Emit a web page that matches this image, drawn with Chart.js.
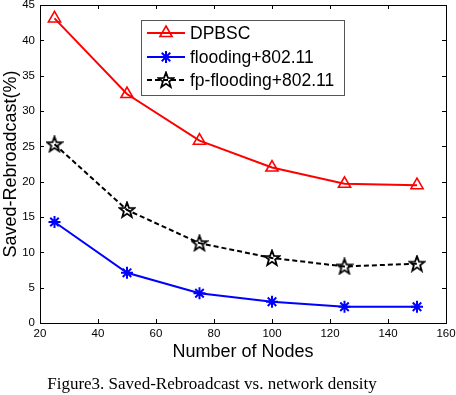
<!DOCTYPE html>
<html>
<head>
<meta charset="utf-8">
<script src="https://cdn.jsdelivr.net/npm/chart.js@4"></script>
<style>
  html, body { margin: 0; padding: 0; background: #fff; }
  #wrap { width: 456px; height: 395px; }
</style>
</head>
<body>
<div id="wrap"><canvas id="rebroadcast" width="456" height="395"></canvas></div>
<script>
const nodes = [25, 50, 75, 100, 125, 150];
const dpbsc = [43.1, 32.4, 25.8, 22.0, 19.7, 19.5];
const flooding = [14.3, 7.1, 4.2, 3.0, 2.3, 2.3];
const fpFlooding = [25.3, 16.0, 11.3, 9.2, 8.0, 8.4];
const seriesNames = ["DPBSC", "flooding+802.11", "fp-flooding+802.11"];
const xTicks = [20, 40, 60, 80, 100, 120, 140, 160];
const yTicks = [0, 5, 10, 15, 20, 25, 30, 35, 40, 45];
const caption = "Figure3. Saved-Rebroadcast vs. network density";

const SANS = '"Liberation Sans", Arial, sans-serif';

// hollow five point star, like matlab's 'p' marker
function makeStar() {
  const c = document.createElement("canvas");
  c.width = 18; c.height = 18;
  const g = c.getContext("2d");
  g.beginPath();
  for (let i = 0; i < 10; i++) {
    const r = i % 2 === 0 ? 8 : 3.3;
    const a = -Math.PI / 2 + i * Math.PI / 5;
    const px = 9 + r * Math.cos(a), py = 9.5 + r * Math.sin(a);
    if (i === 0) g.moveTo(px, py); else g.lineTo(px, py);
  }
  g.closePath();
  g.lineWidth = 1.8;
  g.strokeStyle = "#000";
  g.lineJoin = "miter";
  g.stroke();
  return c;
}
const starImg = makeStar();

const toPoints = (vals) => vals.map((v, i) => ({ x: nodes[i], y: v }));

const boxAndTicks = {
  id: "boxAndTicks",
  afterDraw(chart) {
    const { ctx, chartArea: a, scales } = chart;
    ctx.save();
    ctx.strokeStyle = "#000";
    ctx.lineWidth = 1;
    ctx.strokeRect(Math.round(a.left) + 0.5, Math.round(a.top) + 0.5,
      Math.round(a.right - a.left), Math.round(a.bottom - a.top));
    ctx.beginPath();
    scales.x.ticks.forEach(t => {
      const px = Math.round(scales.x.getPixelForValue(t.value)) + 0.5;
      ctx.moveTo(px, a.bottom); ctx.lineTo(px, a.bottom - 4);
      ctx.moveTo(px, a.top); ctx.lineTo(px, a.top + 4);
    });
    scales.y.ticks.forEach(t => {
      const py = Math.round(scales.y.getPixelForValue(t.value)) + 0.5;
      ctx.moveTo(a.left, py); ctx.lineTo(a.left + 4, py);
      ctx.moveTo(a.right, py); ctx.lineTo(a.right - 4, py);
    });
    ctx.stroke();

    // legend box
    ctx.fillStyle = "#fff";
    ctx.fillRect(141.5, 20.5, 203, 75);
    ctx.strokeStyle = "#555";
    ctx.strokeRect(141.5, 20.5, 203, 75);
    const rows = [33, 57, 80];
    chart.data.datasets.forEach((ds, i) => {
      const y = rows[i];
      ctx.strokeStyle = ds.borderColor;
      ctx.lineWidth = ds.borderWidth;
      ctx.setLineDash(ds.borderDash || []);
      ctx.beginPath();
      ctx.moveTo(147, y); ctx.lineTo(185, y);
      ctx.stroke();
      ctx.setLineDash([]);
      ctx.fillStyle = "rgba(0,0,0,0)";
      ctx.lineWidth = ds.pointBorderWidth;
      Chart.helpers.drawPoint(ctx, {
        pointStyle: ds.pointStyle, radius: ds.pointRadius,
        borderWidth: ds.pointBorderWidth, rotation: 0
      }, 166, y);
      ctx.fillStyle = "#000";
      ctx.font = "17.5px " + SANS;
      ctx.textAlign = "left";
      ctx.textBaseline = "middle";
      ctx.fillText(ds.label, 190, y + 1);
    });

    // figure caption
    ctx.fillStyle = "#000";
    ctx.font = '17px "Liberation Serif", "Times New Roman", serif';
    ctx.textAlign = "center";
    ctx.textBaseline = "alphabetic";
    ctx.fillText(caption, 212, 389);
    ctx.restore();
  }
};

new Chart(document.getElementById("rebroadcast"), {
  type: "line",
  data: {
    datasets: [
      {
        label: seriesNames[0],
        data: toPoints(dpbsc),
        borderColor: "#ff0000",
        backgroundColor: "rgba(0,0,0,0)",
        borderWidth: 2,
        pointStyle: "triangle",
        pointRadius: 7,
        pointBorderWidth: 1.6,
        pointBorderColor: "#ff0000",
        pointBackgroundColor: "rgba(0,0,0,0)",
        tension: 0,
      },
      {
        label: seriesNames[1],
        data: toPoints(flooding),
        borderColor: "#0000ff",
        backgroundColor: "rgba(0,0,0,0)",
        borderWidth: 2,
        pointStyle: "star",
        pointRadius: 6,
        pointBorderWidth: 2,
        pointBorderColor: "#0000ff",
        pointBackgroundColor: "rgba(0,0,0,0)",
        tension: 0,
      },
      {
        label: seriesNames[2],
        data: toPoints(fpFlooding),
        borderColor: "#000000",
        backgroundColor: "rgba(0,0,0,0)",
        borderWidth: 2,
        borderDash: [5, 3],
        pointStyle: starImg,
        pointRadius: 8,
        pointBorderWidth: 1.8,
        pointBorderColor: "#000",
        pointBackgroundColor: "rgba(0,0,0,0)",
        tension: 0,
      },
    ],
  },
  options: {
    responsive: false,
    animation: false,
    layout: { autoPadding: false, padding: { top: 5, right: 10, left: 0, bottom: 20 } },
    plugins: {
      legend: { display: false },
      tooltip: { enabled: false },
    },
    scales: {
      x: {
        type: "linear",
        min: 20,
        max: 160,
        afterBuildTicks: (s) => { s.ticks = xTicks.map(v => ({ value: v })); },
        afterFit: (s) => { s.height = 52; s.paddingRight = 0; s.paddingLeft = 0; },
        grid: { display: false, drawTicks: false },
        border: { display: false },
        ticks: {
          padding: 5,
          color: "#000",
          maxRotation: 0,
          font: { family: SANS, size: 11.5, lineHeight: 1 },
        },
        title: {
          display: true,
          text: "Number of Nodes",
          color: "#000",
          font: { family: SANS, size: 18 },
          padding: { top: 0, bottom: 12 },
        },
      },
      y: {
        min: 0,
        max: 45,
        afterBuildTicks: (s) => { s.ticks = yTicks.map(v => ({ value: v })); },
        afterFit: (s) => { s.width = 40; s.paddingTop = 0; s.paddingBottom = 0; },
        grid: { display: false, drawTicks: false },
        border: { display: false },
        ticks: {
          padding: 5,
          color: "#000",
          font: { family: SANS, size: 11.5, lineHeight: 1 },
        },
        title: {
          display: true,
          text: "Saved-Rebroadcast(%)",
          color: "#000",
          font: { family: SANS, size: 18 },
          padding: { top: 0, bottom: 0 },
        },
      },
    },
  },
  plugins: [boxAndTicks],
});
</script>
</body>
</html>
